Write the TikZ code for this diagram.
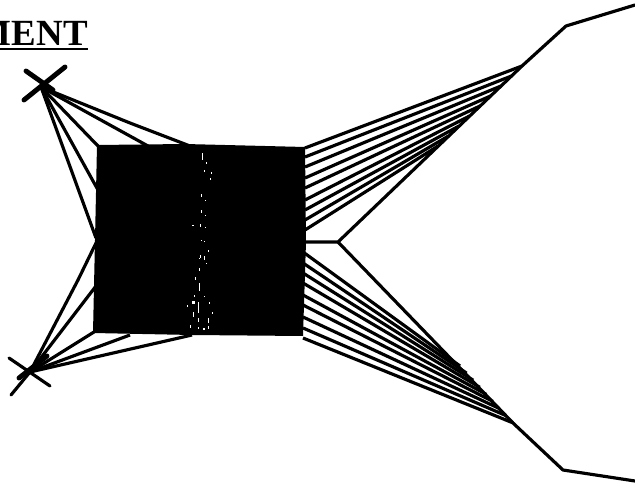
\documentclass[tikz,border=0pt]{standalone}
\usepackage{fontspec}
\setmainfont{Liberation Serif}
\usetikzlibrary{calc}
\tikzset{
  ray/.style={line width=1.8pt, line join=round},
  crossarm/.style={line width=2.8pt, line cap=round},
  thinarm/.style={line width=1.8pt, line cap=round},
  speck/.style={fill=white}
}
\begin{document}
\begin{tikzpicture}[x=0.02cm,y=-0.02cm]
\useasboundingbox (0,0) rectangle (635,493);
\clip (0,0) rectangle (635,493);
% Heading, cut at the left edge
\node[font=\bfseries\fontsize{21}{21}\selectfont, anchor=base east, inner sep=0pt] (title) at (88,46) {MENT};
\fill (0,48) rectangle (88,50);
% Named points
\coordinate (srcU) at (41,87);
\coordinate (srcL) at (30,372);
\coordinate (apex) at (338,242);
\coordinate (focU) at (522,66);
\coordinate (focL) at (513,423);
% Lens block
\fill (97,145) -- (185,144) -- (305,147) -- (306,242) -- (303,336) -- (192,335) -- (93,333) -- (95,240) -- cycle;
% Scan specks in the block
\foreach \x/\y/\w/\h in {202/153/1/7,206/162/1/2,204/170/1/2,211/172/1/2,210/178/1/2,201/194/1/3,205/200/1/1,201/210/1/3,205/215/1/1,200/224/1/3,
  192/225/2/1,201/240/1/1,205/227/1/1,204/241/1/1,200/255/1/3,206/263/1/1,208/250/1/2,199/258/1/1,204/256/1/4,199/268/1/3,
  195/277/1/3,199/283/1/8,194/295/1/2,204/296/1/1,192/301/3/3,198/302/1/11,209/302/1/2,187/305/1/2,193/312/1/5,198/318/1/4,
  208/318/1/5,212/312/1/2,190/325/1/3,198/327/1/2,203/328/2/2,208/326/1/3}{
  \fill[speck] (\x,\y) rectangle ++(\w,\h);
}
% Rays from the upper source
\draw[ray] (srcU) -- (130,123) -- (190,146);
\draw[ray] (srcU) -- (148,146);
\draw[ray] (srcU) -- (98,146);
\draw[ray] (srcU) -- (98,190);
\draw[ray] (srcU) -- (96,238);
% Rays from the lower source
\draw[ray] (srcL) -- (78,280) -- (96,243);
\draw[ray] (srcL) -- (96,286);
\draw[ray] (srcL) -- (94,332);
\draw[ray] (srcL) -- (130,335);
\draw[ray] (srcL) -- (192,335);
% Crosses
\draw[crossarm] (26,71) -- (53,90);
\draw[crossarm] (65,67) -- (24,100);
\draw[thinarm] (9,358) -- (50,386);
\draw[thinarm] (11,395) -- (30,372);
\draw[crossarm] (19,378) -- (47,356);
% Axis ray through the apex
\draw[ray] (305,242) -- (apex) -- (focU) -- (566,26) -- (635,5);
\draw[ray] (apex) -- (focL) -- (563,470) -- (635,481);
% Upper fan
\foreach \y [count=\n from 0] in {148,157,167,178,188,200,210,220,230} {
  \draw[ray] (305,\y) -- ($(focU)+(-10.5*\n,10*\n)$);
}
% Lower fan
\foreach \y [count=\n from 0] in {252,263,273,283,295,305,317,328,338} {
  \draw[ray] (303,\y) -- ($(460,366)+(6.6*\n,7.1*\n)$);
}
\end{tikzpicture}
\end{document}
